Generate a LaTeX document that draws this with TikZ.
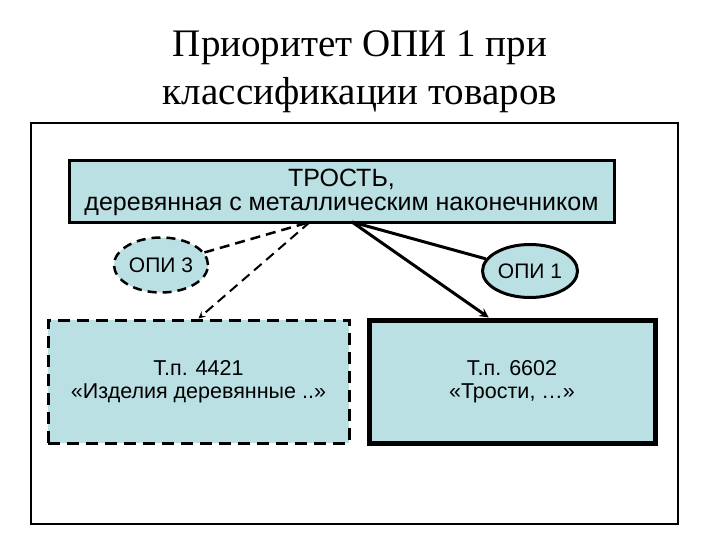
\documentclass[tikz,border=0pt]{standalone}
\usepackage{fontspec}
\setmainfont{Liberation Serif}
\newfontfamily\boxfont{Liberation Sans}
\usetikzlibrary{shapes.geometric}
\definecolor{slidefill}{HTML}{BBE0E3}

\begin{document}
\begin{tikzpicture}[x=1pt,y=-1pt,line width=2pt,
  box/.style={draw,fill=slidefill,inner sep=0pt,align=center,
    font=\boxfont\fontsize{21.5}{23}\selectfont},
  oval/.style={box,ellipse,line width=2.5pt,font=\boxfont\fontsize{21}{22}\selectfont},
  dashbox/.style={dash pattern=on 12pt off 7pt}]
  \useasboundingbox (0,0) rectangle (720,540);
  % title
  \node (title1) at (360,48) {\fontsize{39}{46}\selectfont Приоритет ОПИ 1 при};
  \node (title2) at (360,95) {\fontsize{39}{46}\selectfont классификации товаров};
  % slide frame
  \draw (31,123) rectangle (678,524);
  % the goods
  \node[box,line width=3pt,minimum width=545,minimum height=62,
    font=\boxfont\fontsize{25}{24}\selectfont] (trost) at (341.5,192)
    {ТРОСТЬ,\\деревянная с металлическим наконечником};
  % the two rules
  \node[oval,dash pattern=on 9pt off 6pt,minimum width=94,minimum height=55] (opi3) at (161,265) {ОПИ 3};
  \node[oval,line width=3pt,minimum width=95,minimum height=53] (opi1) at (530,271) {ОПИ 1};
  % the two headings
  \node[box,dashbox,line width=3pt,minimum width=301,minimum height=123] (izd) at (198.5,381.5)
    {Т.п. 4421\\«Изделия деревянные ..»};
  \node[box,line width=5pt,minimum width=286,minimum height=123] (trosti) at (512,381.5)
    {Т.п. 6602\\«Трости, …»};
  % connectors
  \coordinate (dashsrc) at (310,222);
  \coordinate (solsrc) at (352,222);
  \draw[line width=2.5pt,dash pattern=on 10pt off 6pt] (opi3) -- (dashsrc);
  \draw[->,>=stealth,line width=2pt,dash pattern=on 10pt off 6pt] (dashsrc) -- (izd.north);
  \draw[line width=3pt] (solsrc) -- (opi1);
  \draw[->,>=stealth,line width=3pt] (solsrc) -- (trosti.110);
\end{tikzpicture}
\end{document}
